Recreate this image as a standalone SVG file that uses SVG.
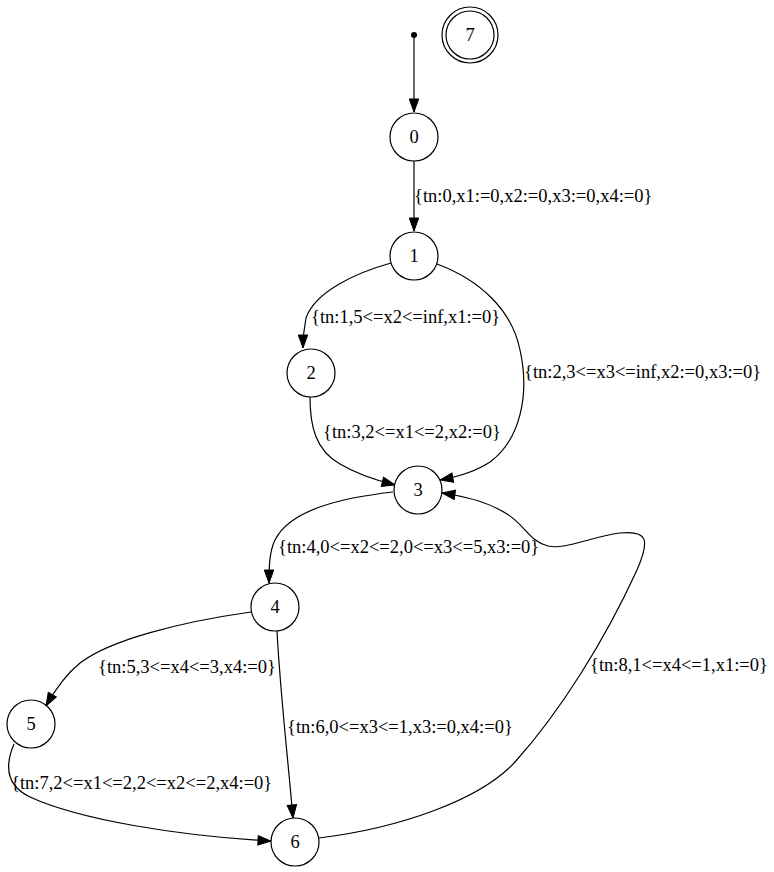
<svg xmlns="http://www.w3.org/2000/svg" width="774" height="872" viewBox="0 0 774 872">
  <style>
    .node circle { fill: #ffffff; stroke: #000000; stroke-width: 1.2; }
    .node text { font-family: "Liberation Serif", "Times New Roman", serif; font-size: 18.5px; text-anchor: middle; fill: #000000; }
    .edge path { fill: none; stroke: #000000; stroke-width: 1.2; }
    .edge text { font-family: "Liberation Serif", "Times New Roman", serif; font-size: 18.5px; fill: #000000; }
  </style>
  <defs>
    <marker id="arrow" markerUnits="userSpaceOnUse" markerWidth="15" markerHeight="12" refX="14" refY="5.7" orient="auto">
      <path d="M1,1 L14,5.7 L1,10.4 z" fill="#000000" stroke="#000000" stroke-width="1"/>
    </marker>
  </defs>
  <rect width="774" height="872" fill="#ffffff"/>

  <!-- transitions -->
  <g id="edges">
    <g class="edge" id="e_start_0">
      <path d="M414,38 L414,112" marker-end="url(#arrow)"/>
    </g>
    <g class="edge" id="e_0_1">
      <path d="M414,161 L414,231" marker-end="url(#arrow)"/>
      <text x="414" y="202">{tn:0,x1:=0,x2:=0,x3:=0,x4:=0}</text>
    </g>
    <g class="edge" id="e_1_2">
      <path d="M391,263 C355,273 315,292 306,318 C304,328 303,337 303,348" marker-end="url(#arrow)"/>
      <text x="311" y="323">{tn:1,5&lt;=x2&lt;=inf,x1:=0}</text>
    </g>
    <g class="edge" id="e_1_3">
      <path d="M437,264 C480,280 512,310 520,350 C530,395 520,440 490,462 C478,470 462,476 440,480" marker-end="url(#arrow)"/>
      <text x="524" y="378">{tn:2,3&lt;=x3&lt;=inf,x2:=0,x3:=0}</text>
    </g>
    <g class="edge" id="e_2_3">
      <path d="M310,397 C310,425 315,450 340,464 C355,473 375,480 395,485" marker-end="url(#arrow)"/>
      <text x="323" y="438">{tn:3,2&lt;=x1&lt;=2,x2:=0}</text>
    </g>
    <g class="edge" id="e_3_4">
      <path d="M393,492 C340,498 290,510 275,540 C269,552 269,570 269,583" marker-end="url(#arrow)"/>
      <text x="278" y="553">{tn:4,0&lt;=x2&lt;=2,0&lt;=x3&lt;=5,x3:=0}</text>
    </g>
    <g class="edge" id="e_4_5">
      <path d="M251,612 C180,622 110,640 80,663 C65,675 55,690 46,706" marker-end="url(#arrow)"/>
      <text x="98" y="673">{tn:5,3&lt;=x4&lt;=3,x4:=0}</text>
    </g>
    <g class="edge" id="e_4_6">
      <path d="M277,631 C280,690 288,760 293,818" marker-end="url(#arrow)"/>
      <text x="287" y="733">{tn:6,0&lt;=x3&lt;=1,x3:=0,x4:=0}</text>
    </g>
    <g class="edge" id="e_5_6">
      <path d="M14,744 C5,765 5,785 30,797 C80,820 180,836 271,841" marker-end="url(#arrow)"/>
      <text x="11" y="789">{tn:7,2&lt;=x1&lt;=2,2&lt;=x2&lt;=2,x4:=0}</text>
    </g>
    <g class="edge" id="e_6_3">
      <path d="M319,838 C400,828 480,800 515,762 C560,712 605,640 637,570 C650,540 648,530 620,533 C590,537 565,550 548,546 C530,542 525,525 507,514 C490,503 470,497 442,493" marker-end="url(#arrow)"/>
      <text x="590" y="671">{tn:8,1&lt;=x4&lt;=1,x1:=0}</text>
    </g>
  </g>

  <!-- initial marker -->
  <g id="start">
    <circle cx="414" cy="35" r="3" fill="#000000"/>
  </g>

  <!-- states -->
  <g class="node" id="s7">
    <circle cx="470" cy="35" r="28"/>
    <circle cx="470" cy="35" r="24"/>
    <text x="470" y="41">7</text>
  </g>
  <g class="node" id="s0">
    <circle cx="414" cy="137" r="24"/>
    <text x="414" y="143">0</text>
  </g>
  <g class="node" id="s1">
    <circle cx="414" cy="256" r="24"/>
    <text x="414" y="262">1</text>
  </g>
  <g class="node" id="s2">
    <circle cx="311" cy="373" r="24"/>
    <text x="311" y="379">2</text>
  </g>
  <g class="node" id="s3">
    <circle cx="418" cy="490" r="24"/>
    <text x="418" y="496">3</text>
  </g>
  <g class="node" id="s4">
    <circle cx="275" cy="607" r="24"/>
    <text x="275" y="613">4</text>
  </g>
  <g class="node" id="s5">
    <circle cx="31" cy="724" r="24"/>
    <text x="31" y="730">5</text>
  </g>
  <g class="node" id="s6">
    <circle cx="295" cy="842" r="24"/>
    <text x="295" y="848">6</text>
  </g>
</svg>
